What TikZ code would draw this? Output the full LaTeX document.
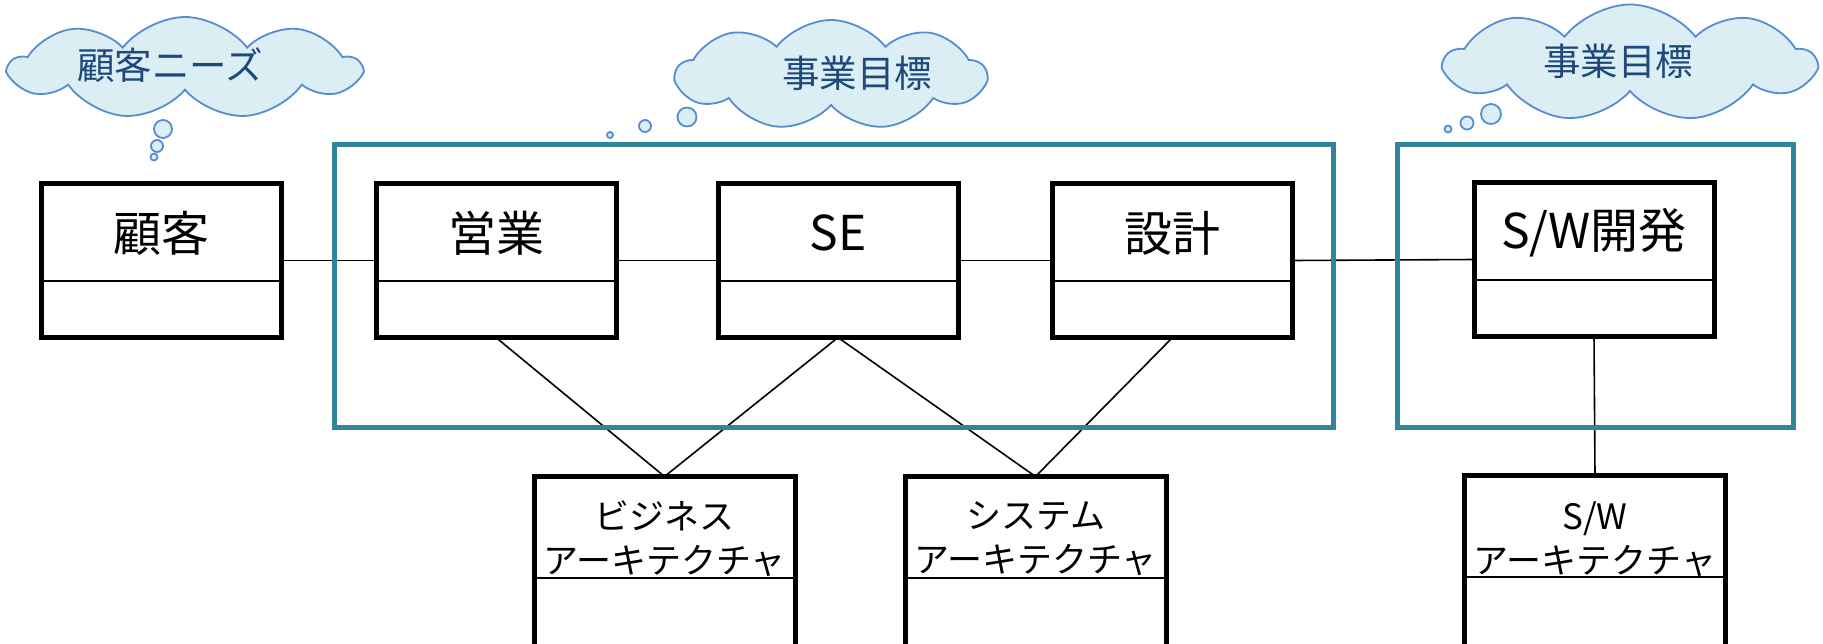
\documentclass[tikz,border=0pt]{standalone}
\usepackage{fontspec}
\newfontfamily\jp{Noto Sans CJK JP}
\usetikzlibrary{shapes.symbols}
\definecolor{tealline}{RGB}{49,132,155}
\definecolor{cloudfill}{RGB}{219,238,244}
\definecolor{cloudline}{RGB}{88,140,210}
\definecolor{cloudtext}{RGB}{31,73,125}
\begin{document}
\begin{tikzpicture}[x=1pt,y=-1pt,
  umlbox/.style={draw, line width=5pt, minimum width=240pt, minimum height=154pt, inner sep=0pt, outer sep=0pt, fill=white},
  lowbox/.style={draw, line width=5pt, minimum width=261pt, minimum height=240pt, inner sep=0pt, outer sep=0pt, anchor=north, fill=white},
  divline/.style={line width=2pt},
  conn/.style={line width=1.6pt},
  groupbox/.style={draw=tealline, line width=5pt},
  boxtext/.style={font=\jp\fontsize{48}{52}\selectfont, inner sep=0pt},
  lowtext/.style={font=\jp\fontsize{35}{44}\selectfont, inner sep=0pt, align=center},
  cloudsh/.style={cloud, cloud puffs=9, cloud puff arc=105, cloud ignores aspect, draw=cloudline, fill=cloudfill, line width=1.8pt, inner sep=0pt},
  bubble/.style={circle, draw=cloudline, fill=cloudfill, line width=1.8pt, inner sep=0pt},
  cloudlabel/.style={font=\jp\fontsize{37.5}{42}\selectfont, text=cloudtext, inner sep=0pt}]
\useasboundingbox (0,0) rectangle (1823,643);
\clip (0,0) rectangle (1823,643);
\fill[white] (0,0) rectangle (1823,643);

% clouds
\node[cloudsh, minimum width=349pt, minimum height=102pt] (cloudA) at (185,68) {};
\node[cloudlabel] (cloudAT) at (170,65) {顧客ニーズ};
\node[bubble, minimum size=18pt] (bA1) at (163,129) {};
\node[bubble, minimum size=12pt] (bA2) at (157,146) {};
\node[bubble, minimum size=7pt] (bA3) at (154,157) {};

\node[cloudsh, minimum width=309pt, minimum height=110pt] (cloudB) at (831,75) {};
\node[cloudlabel] (cloudBT) at (857,73) {事業目標};
\node[bubble, minimum size=19pt] (bB1) at (687,117) {};
\node[bubble, minimum size=12pt] (bB2) at (645,126) {};
\node[bubble, minimum size=6pt] (bB3) at (610,135) {};

\node[cloudsh, minimum width=369pt, minimum height=117pt] (cloudC) at (1630,63) {};
\node[cloudlabel] (cloudCT) at (1618,61) {事業目標};
\node[bubble, minimum size=20pt] (bC1) at (1491,114) {};
\node[bubble, minimum size=13pt] (bC2) at (1467,123) {};
\node[bubble, minimum size=7pt] (bC3) at (1448,129) {};

% top boxes
\node[umlbox] (kokyaku) at (161.5,260.5) {};
\node[umlbox] (eigyo) at (496,260.5) {};
\node[umlbox] (se) at (838,260.5) {};
\node[umlbox] (sekkei) at (1172.5,260.5) {};
\node[umlbox] (swdev) at (1594,259.5) {};

% bottom boxes
\node[lowbox] (biz) at (664.5,476.5) {};
\node[lowbox] (sys) at (1035.5,476.5) {};
\node[lowbox] (swarch) at (1595,475.5) {};

% connectors
\draw[conn] (kokyaku.east) -- (eigyo.west);
\draw[conn] (eigyo.east) -- (se.west);
\draw[conn] (se.east) -- (sekkei.west);
\draw[conn] (sekkei.east) -- (swdev.west);
\draw[conn] (eigyo.south) -- (biz.north);
\draw[conn] (se.south) -- (biz.north);
\draw[conn] (se.south) -- (sys.north);
\draw[conn] (sekkei.south) -- (sys.north);
\draw[conn] (swdev.south) -- (swarch.north);

% group boxes
\draw[groupbox] (334.5,144) rectangle (1333,427);
\draw[groupbox] (1397,144) rectangle (1793,427);

% redraw box borders over connectors
\foreach \n in {kokyaku,eigyo,se,sekkei,swdev,biz,sys,swarch}{
  \draw[line width=5pt] (\n.north west) rectangle (\n.south east);
}

% dividers
\foreach \n in {kokyaku,eigyo,se,sekkei,swdev}{
  \draw[divline] ([yshift=56.5pt]\n.south west) -- ([yshift=56.5pt]\n.south east);
}
\foreach \n in {biz,sys,swarch}{
  \draw[divline] ([yshift=-101.5pt]\n.north west) -- ([yshift=-101.5pt]\n.north east);
}

% texts
\node[boxtext] (kokyakuT) at (161.5,233) {顧客};
\node[boxtext] (eigyoT) at (496,233) {営業};
\node[boxtext] (seT) at (838,233) {SE};
\node[boxtext] (sekkeiT) at (1172.5,233) {設計};
\node[boxtext] (swdevT) at (1594,233) {S/W開発};
\node[lowtext] (bizT) at (664.5,539) {ビジネス\\アーキテクチャ};
\node[lowtext] (sysT) at (1035.5,539) {システム\\アーキテクチャ};
\node[lowtext] (swarchT) at (1595,539) {S/W\\アーキテクチャ};
\end{tikzpicture}
\end{document}
